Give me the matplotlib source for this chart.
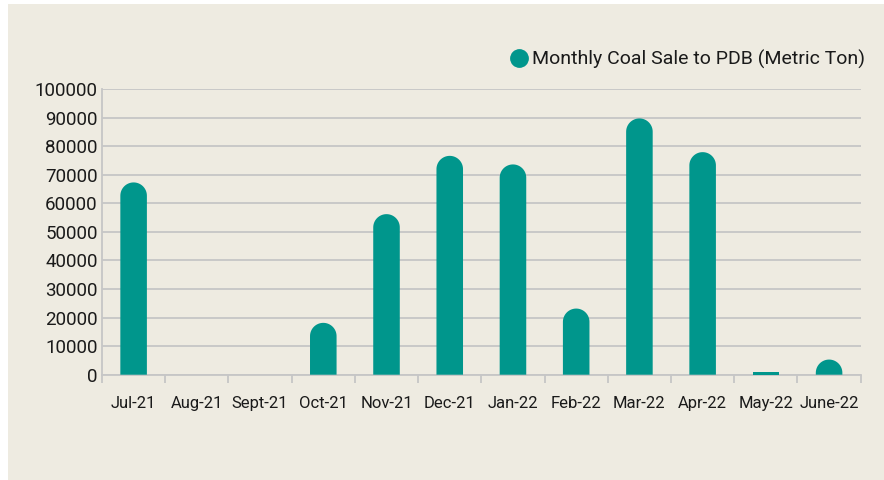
import matplotlib
matplotlib.use("Agg")
import matplotlib.pyplot as plt
from matplotlib.patches import Rectangle, PathPatch
from matplotlib.path import Path
from matplotlib.lines import Line2D
import numpy as np

months = ["Jul-21", "Aug-21", "Sept-21", "Oct-21", "Nov-21", "Dec-21",
          "Jan-22", "Feb-22", "Mar-22", "Apr-22", "May-22", "June-22"]
coal_sale = [67300, 0, 0, 18150, 56200, 76600, 73600, 23150, 89700, 77900, 950, 5300]
y_ticks = [0, 10000, 20000, 30000, 40000, 50000, 60000, 70000, 80000, 90000, 100000]
legend_label = "Monthly Coal Sale to PDB (Metric Ton)"

TEAL = "#00968c"
BG = "#eeebe1"
GRID = "#c6c6c6"
TXT = "#1a1a1a"

plt.rcParams['font.family'] = ['Roboto', 'DejaVu Sans']

fig = plt.figure(figsize=(8.84, 4.8), dpi=100)
fig.patch.set_facecolor("white")
fig.patches.append(Rectangle((8 / 884, 0), 1 - 8 / 884, 1 - 4 / 480,
                             transform=fig.transFigure, facecolor=BG,
                             edgecolor="none", zorder=-10))

ax = fig.add_axes([102 / 884, 1 - 374.7 / 480, (860.7 - 102) / 884, (374.7 - 89) / 480])
ax.set_facecolor("none")
x = np.arange(len(months))
ax.set_xlim(-0.5, len(months) - 0.5)
ax.set_ylim(0, 100000)
ax.set_yticks(y_ticks)
ax.set_yticklabels([str(v) for v in y_ticks])
ax.set_xticks(x)
ax.set_xticklabels(months)
ax.set_xticks(np.arange(-0.5, len(months), 1.0), minor=True)

ax.grid(axis="y", color=GRID, linewidth=1.3, zorder=0)
ax.set_axisbelow(True)
for s in ["top", "right"]:
    ax.spines[s].set_visible(False)
for s in ["left", "bottom"]:
    ax.spines[s].set_color(GRID)
    ax.spines[s].set_linewidth(1.3)

ax.tick_params(axis="y", length=0, pad=3, labelsize=13.5, labelcolor=TXT)
ax.tick_params(axis="x", which="major", length=0, pad=15, labelsize=12, labelcolor=TXT)
ax.tick_params(axis="x", which="minor", length=6, width=1.3, color=GRID)

bar_w = 0.42
bars = ax.bar(x, coal_sale, width=bar_w, color=TEAL, zorder=3)

# Replace bars with rounded-top versions (semicircle cap in pixel space)
fig.canvas.draw()
T = ax.transData
p0 = T.transform((0, 0))
p1 = T.transform((1, 1))
px_per_x = p1[0] - p0[0]
px_per_y = p1[1] - p0[1]
for b in bars:
    x0, w, h = b.get_x(), b.get_width(), b.get_height()
    if h <= 0:
        b.remove()
        continue
    rx = w / 2
    ry = rx * px_per_x / px_per_y
    if h < ry:
        # too short for a rounded cap: keep plain rectangle
        continue
    cx = x0 + rx
    t = np.linspace(0, np.pi, 40)
    arc_x = cx + rx * np.cos(t)
    arc_y = (h - ry) + ry * np.sin(t)
    verts = [(x0, 0), (x0 + w, 0)] + list(zip(arc_x, arc_y)) + [(x0, 0)]
    codes = [Path.MOVETO] + [Path.LINETO] * (len(verts) - 2) + [Path.CLOSEPOLY]
    patch = PathPatch(Path(verts, codes), facecolor=TEAL, edgecolor="none", zorder=3)
    ax.add_patch(patch)
    b.remove()

handle = Line2D([], [], marker="o", linestyle="", color=TEAL, markersize=12.5)
fig.legend([handle], [legend_label], loc="center right",
           bbox_to_anchor=(865 / 884, 1 - 59 / 480), frameon=False,
           fontsize=14, handletextpad=0.0, handlelength=1.3, borderpad=0,
           borderaxespad=0, labelcolor=TXT)

fig.savefig("out.png", dpi=100, facecolor=fig.get_facecolor())
